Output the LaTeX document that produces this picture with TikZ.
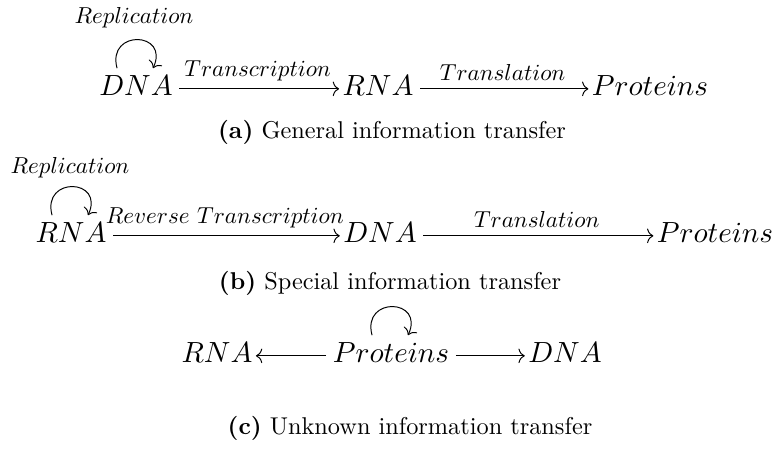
\documentclass[tikz,border=0pt]{standalone}
\usetikzlibrary{arrows.meta}
\tikzset{
  term/.style={inner sep=0pt, anchor=base, scale=1.2, transform shape},
  lbl/.style={inner sep=0pt, scale=0.95, transform shape},
  captext/.style={inner sep=0pt, anchor=base},
  tip/.style={-{To[length=2.6pt, width=6pt]}},
  flow/.style={tip, line width=0.4pt, shorten <=2.5pt, shorten >=1.2pt},
  selfloop/.style={tip, line width=0.4pt, out=105, in=65, looseness=2.9},
  ax/.style={yshift=2.95pt},
}
\begin{document}
\begin{tikzpicture}[x=0.4115pt, y=-0.4115pt]
\useasboundingbox (0,0) rectangle (774,449);

% (a) general transfer
\node[term] (dnaA) at (136,96) {$DNA$};
\node[term] (rnaA) at (378,96) {$RNA$};
\node[term] (proA) at (650,96) {$Proteins$};
\node[lbl, anchor=base] (repA) at (134,24) {$Replication$};
\draw[selfloop] ([xshift=-7.8pt, yshift=3pt]dnaA.north) to ([xshift=7pt, yshift=3pt]dnaA.north);
\draw[flow] ([ax]dnaA.base east) -- node[lbl, midway, above=3.4pt] {$Transcription$} ([ax]rnaA.base west);
\draw[flow] ([ax]rnaA.base east) -- node[lbl, midway, above=3.4pt] {$Translation$} ([ax]proA.base west);
\node[captext] (capA) at (392,139) {\textbf{(a)} General information transfer};

% (b) special transfer
\node[term] (rnaB) at (71,243) {$RNA$};
\node[term] (dnaB) at (380,243) {$DNA$};
\node[term] (proB) at (715,243) {$Proteins$};
\node[lbl, anchor=base] (repB) at (70,174) {$Replication$};
\draw[selfloop] ([xshift=-7.8pt, yshift=3pt]rnaB.north) to ([xshift=7pt, yshift=3pt]rnaB.north);
\draw[flow] ([ax]rnaB.base east) -- node[lbl, midway, above=3.4pt] {$Reverse\ Transcription$} ([ax]dnaB.base west);
\draw[flow] ([ax]dnaB.base east) -- node[lbl, midway, above=3.4pt] {$Translation$} ([ax]proB.base west);
\node[captext] (capB) at (390,290) {\textbf{(b)} Special information transfer};

% (c) unknown transfer
\node[term] (rnaC) at (217,363) {$RNA$};
\node[term] (proC) at (391,363) {$Proteins$};
\node[term] (dnaC) at (565,363) {$DNA$};
\draw[selfloop] ([xshift=-7.8pt, yshift=3pt]proC.north) to ([xshift=7pt, yshift=3pt]proC.north);
\draw[flow] ([ax]proC.base west) -- ([ax]rnaC.base east);
\draw[flow] ([ax]proC.base east) -- ([ax]dnaC.base west);
\node[captext] (capC) at (410,435) {\textbf{(c)} Unknown information transfer};
\end{tikzpicture}
\end{document}
